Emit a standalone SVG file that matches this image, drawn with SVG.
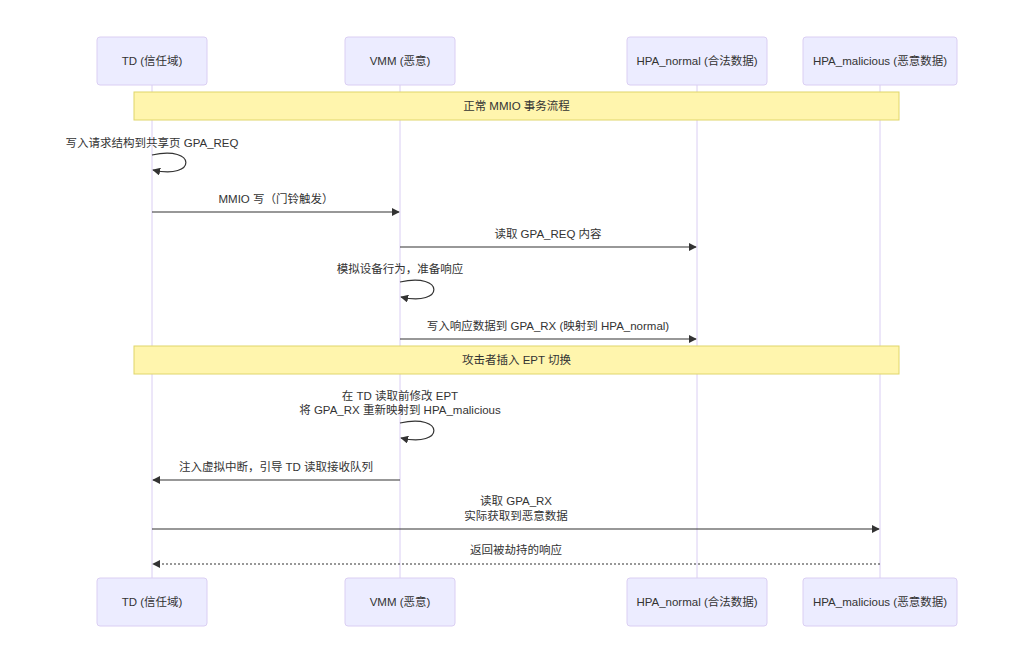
<svg xmlns="http://www.w3.org/2000/svg" width="1024" height="664" viewBox="0 0 1024 664">
<style>
.actor{fill:#ececff;stroke:#dacef3;stroke-width:1}
.life{stroke:#dacef3;stroke-width:1}
.t{font-family:"Liberation Sans","Noto Sans CJK SC",sans-serif;font-size:11.5px;fill:#333;text-anchor:middle}
.note{fill:#fff5ad;stroke:#e0d66a;stroke-width:1}
.msg{stroke:#333;stroke-width:1.2;fill:none}
.dot{stroke-dasharray:2,2}
</style>
<defs>
<marker id="ah" viewBox="0 0 10 10" refX="9" refY="5" markerWidth="8" markerHeight="8" markerUnits="userSpaceOnUse" orient="auto">
<path d="M0,0 L10,5 L0,10 z" fill="#333"/>
</marker>
</defs>
<rect width="1024" height="664" fill="#fff"/>
<g id="lifelines">
<line class="life" x1="152" y1="85" x2="152" y2="578"/>
<line class="life" x1="400" y1="85" x2="400" y2="578"/>
<line class="life" x1="697" y1="85" x2="697" y2="578"/>
<line class="life" x1="880" y1="85" x2="880" y2="578"/>
</g>
<g id="td">
<rect class="actor" x="97" y="37" width="110" height="48" rx="3"/>
<text class="t" x="152" y="65">TD (信任域)</text>
<rect class="actor" x="97" y="578" width="110" height="48" rx="3"/>
<text class="t" x="152" y="606">TD (信任域)</text>
</g>
<g id="vmm">
<rect class="actor" x="345" y="37" width="110" height="48" rx="3"/>
<text class="t" x="400" y="65">VMM (恶意)</text>
<rect class="actor" x="345" y="578" width="110" height="48" rx="3"/>
<text class="t" x="400" y="606">VMM (恶意)</text>
</g>
<g id="hpa_normal">
<rect class="actor" x="627" y="37" width="140" height="48" rx="3"/>
<text class="t" x="697" y="65">HPA_normal (合法数据)</text>
<rect class="actor" x="627" y="578" width="140" height="48" rx="3"/>
<text class="t" x="697" y="606">HPA_normal (合法数据)</text>
</g>
<g id="hpa_malicious">
<rect class="actor" x="803" y="37" width="154" height="48" rx="3"/>
<text class="t" x="880" y="65">HPA_malicious (恶意数据)</text>
<rect class="actor" x="803" y="578" width="154" height="48" rx="3"/>
<text class="t" x="880" y="606">HPA_malicious (恶意数据)</text>
</g>
<g id="note1">
<rect class="note" x="134" y="92" width="765" height="28"/>
<text class="t" x="516.5" y="110">正常 MMIO 事务流程</text>
</g>
<g id="note2">
<rect class="note" x="134" y="346" width="765" height="28"/>
<text class="t" x="516.5" y="364">攻击者插入 EPT 切换</text>
</g>
<g id="connectors">
<text class="t" x="152" y="147">写入请求结构到共享页 GPA_REQ</text>
<path class="msg" d="M152,155 C197,145 197,180 153,170" marker-end="url(#ah)"/>
<text class="t" x="276" y="203">MMIO 写（门铃触发）</text>
<line class="msg" x1="152" y1="212" x2="399" y2="212" marker-end="url(#ah)"/>
<text class="t" x="548" y="238">读取 GPA_REQ 内容</text>
<line class="msg" x1="400" y1="247" x2="696" y2="247" marker-end="url(#ah)"/>
<text class="t" x="400" y="273">模拟设备行为，准备响应</text>
<path class="msg" d="M400,282 C445,272 445,307 401,297" marker-end="url(#ah)"/>
<text class="t" x="548" y="330">写入响应数据到 GPA_RX (映射到 HPA_normal)</text>
<line class="msg" x1="400" y1="339" x2="696" y2="339" marker-end="url(#ah)"/>
<text class="t" x="400" y="400">在 TD 读取前修改 EPT</text>
<text class="t" x="400" y="414">将 GPA_RX 重新映射到 HPA_malicious</text>
<path class="msg" d="M400,423 C445,413 445,448 401,438" marker-end="url(#ah)"/>
<text class="t" x="276" y="471">注入虚拟中断，引导 TD 读取接收队列</text>
<line class="msg" x1="400" y1="480" x2="153" y2="480" marker-end="url(#ah)"/>
<text class="t" x="516" y="505">读取 GPA_RX</text>
<text class="t" x="516" y="520">实际获取到恶意数据</text>
<line class="msg" x1="152" y1="529" x2="879" y2="529" marker-end="url(#ah)"/>
<text class="t" x="516" y="554">返回被劫持的响应</text>
<line class="msg dot" x1="880" y1="564" x2="153" y2="564" marker-end="url(#ah)"/>
</g>
</svg>
